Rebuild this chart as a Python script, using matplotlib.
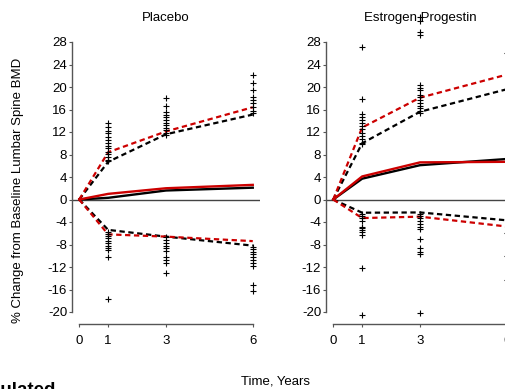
import matplotlib.pyplot as plt

plt.rcParams['font.family'] = ['Liberation Sans', 'DejaVu Sans']
plt.rcParams['axes.unicode_minus'] = False

years = [0, 1, 3, 6]
RED = "#cc0000"

# Placebo panel
pl_black_mid = [0, 0.3, 1.6, 2.1]
pl_red_mid = [0, 1.0, 2.0, 2.6]
pl_black_hi = [0, 6.7, 11.6, 15.1]
pl_red_hi = [0, 8.4, 12.1, 16.4]
pl_black_lo = [0, -5.4, -6.6, -8.2]
pl_red_lo = [0, -6.2, -6.6, -7.4]
pl_pts_t1 = [13.6, 12.9, 12.2, 11.8, 11.2, 10.6, 10.1, 9.6, 9.1, 8.5, 8.1, 7.6, 7.1, 6.8,
             -5.7, -6.1, -6.5, -6.9, -7.3, -7.8, -8.3, -8.7, -9.0, -10.2, -17.7]
pl_pts_t3 = [18.1, 16.7, 15.6, 15.1, 14.6, 14.1, 13.6, 13.2, 12.8, 12.3, 11.9, 11.5,
             -6.7, -7.2, -7.7, -8.3, -8.7, -9.1, -10.3, -10.8, -11.2, -13.0]
pl_pts_t6 = [22.1, 20.8, 19.5, 18.3, 17.7, 17.1, 16.4, 15.8, 15.3,
             -8.4, -8.85, -9.3, -9.7, -10.3, -10.8, -11.3, -11.8, -15.2, -16.3]

# Estrogen Progestin panel
ep_black_mid = [0, 3.7, 6.1, 7.2]
ep_red_mid = [0, 4.1, 6.6, 6.7]
ep_black_hi = [0, 10.0, 15.6, 19.6]
ep_red_hi = [0, 12.8, 18.1, 22.2]
ep_black_lo = [0, -2.35, -2.3, -3.7]
ep_red_lo = [0, -3.3, -3.05, -4.8]
ep_pts_t1 = [27.2, 17.8, 15.2, 14.7, 14.1, 13.65, 13.1, 12.5, 11.9, 11.3, 10.7, 10.1, 9.9,
             -2.5, -2.9, -3.3, -3.8, -4.8, -5.1, -5.4, -5.8, -6.3, -12.1, -20.5]
ep_pts_t3 = [32.5, 31.8, 29.8, 29.2, 20.35, 19.9, 19.5, 18.6, 18.2, 17.7, 17.2, 16.7, 16.2,
             15.8, 15.4, -2.5, -2.9, -3.3, -3.9, -4.4, -4.8, -5.3, -7.0, -8.7, -9.3, -9.7, -20.2]
ep_pts_t6 = [26.0, 19.5, -6.0, -10.0, -14.3]

yticks = list(range(-20, 29, 4))

panels = [
    ("Placebo", [pl_black_mid, pl_red_mid, pl_black_hi, pl_red_hi, pl_black_lo, pl_red_lo],
     [pl_pts_t1, pl_pts_t3, pl_pts_t6]),
    ("Estrogen Progestin", [ep_black_mid, ep_red_mid, ep_black_hi, ep_red_hi, ep_black_lo, ep_red_lo],
     [ep_pts_t1, ep_pts_t3, ep_pts_t6]),
]

fig = plt.figure(figsize=(5.06, 3.89), dpi=100)
lefts = [72 / 506, 326 / 506]

for left, (title, lines, pts) in zip(lefts, panels):
    ax = fig.add_axes([left, 77 / 389, 188 / 506, 270 / 389])
    ax.axhline(0, color="#444444", lw=1.0, zorder=1)
    bmid, rmid, bhi, rhi, blo, rlo = lines
    dash = (0, (2.4, 1.6))
    ax.plot(years, bhi, color="black", lw=1.6, ls=dash, clip_on=False, zorder=3)
    ax.plot(years, blo, color="black", lw=1.6, ls=dash, clip_on=False, zorder=3)
    ax.plot(years, rhi, color=RED, lw=1.6, ls=dash, clip_on=False, zorder=4)
    ax.plot(years, rlo, color=RED, lw=1.6, ls=dash, clip_on=False, zorder=4)
    ax.plot(years, bmid, color="black", lw=1.7, clip_on=False, zorder=3)
    ax.plot(years, rmid, color=RED, lw=1.7, clip_on=False, zorder=4)
    for t, vals in zip(years[1:], pts):
        ax.plot([t] * len(vals), vals, ls="none", marker="+", ms=4, mew=0.8,
                color="black", clip_on=False, zorder=5)

    ax.set_xlim(-0.25, 6.25)
    ax.set_ylim(-20, 28)
    ax.set_xticks(years)
    ax.set_yticks(yticks)
    for s in ["top", "right"]:
        ax.spines[s].set_visible(False)
    ax.spines["left"].set_bounds(-20, 28)
    ax.spines["bottom"].set_bounds(0, 6)
    ax.spines["bottom"].set_position(("outward", 8.6))
    for s in ["left", "bottom"]:
        ax.spines[s].set_color("#555555")
        ax.spines[s].set_linewidth(1.0)
    ax.tick_params(axis="y", length=2.3, width=0.8, color="#555555", pad=1.2, labelsize=9.5)
    ax.tick_params(axis="x", length=2.3, width=0.8, color="#555555", pad=6, labelsize=9.5)
    ax.set_title(title, fontsize=9.5, pad=15)

fig.text(18 / 506, 1 - 190 / 389, "% Change from Baseline Lumbar Spine BMD",
         rotation=90, ha="center", va="center", fontsize=9.5)
fig.text(276 / 506, 1 - 381 / 389, "Time, Years", ha="center", va="center", fontsize=9.5)
fig.text(56 / 506, 1 - 382 / 389, "Simulated", ha="right", va="top",
         fontsize=13.5, fontweight="bold")

fig.savefig("out.png", dpi=100)
